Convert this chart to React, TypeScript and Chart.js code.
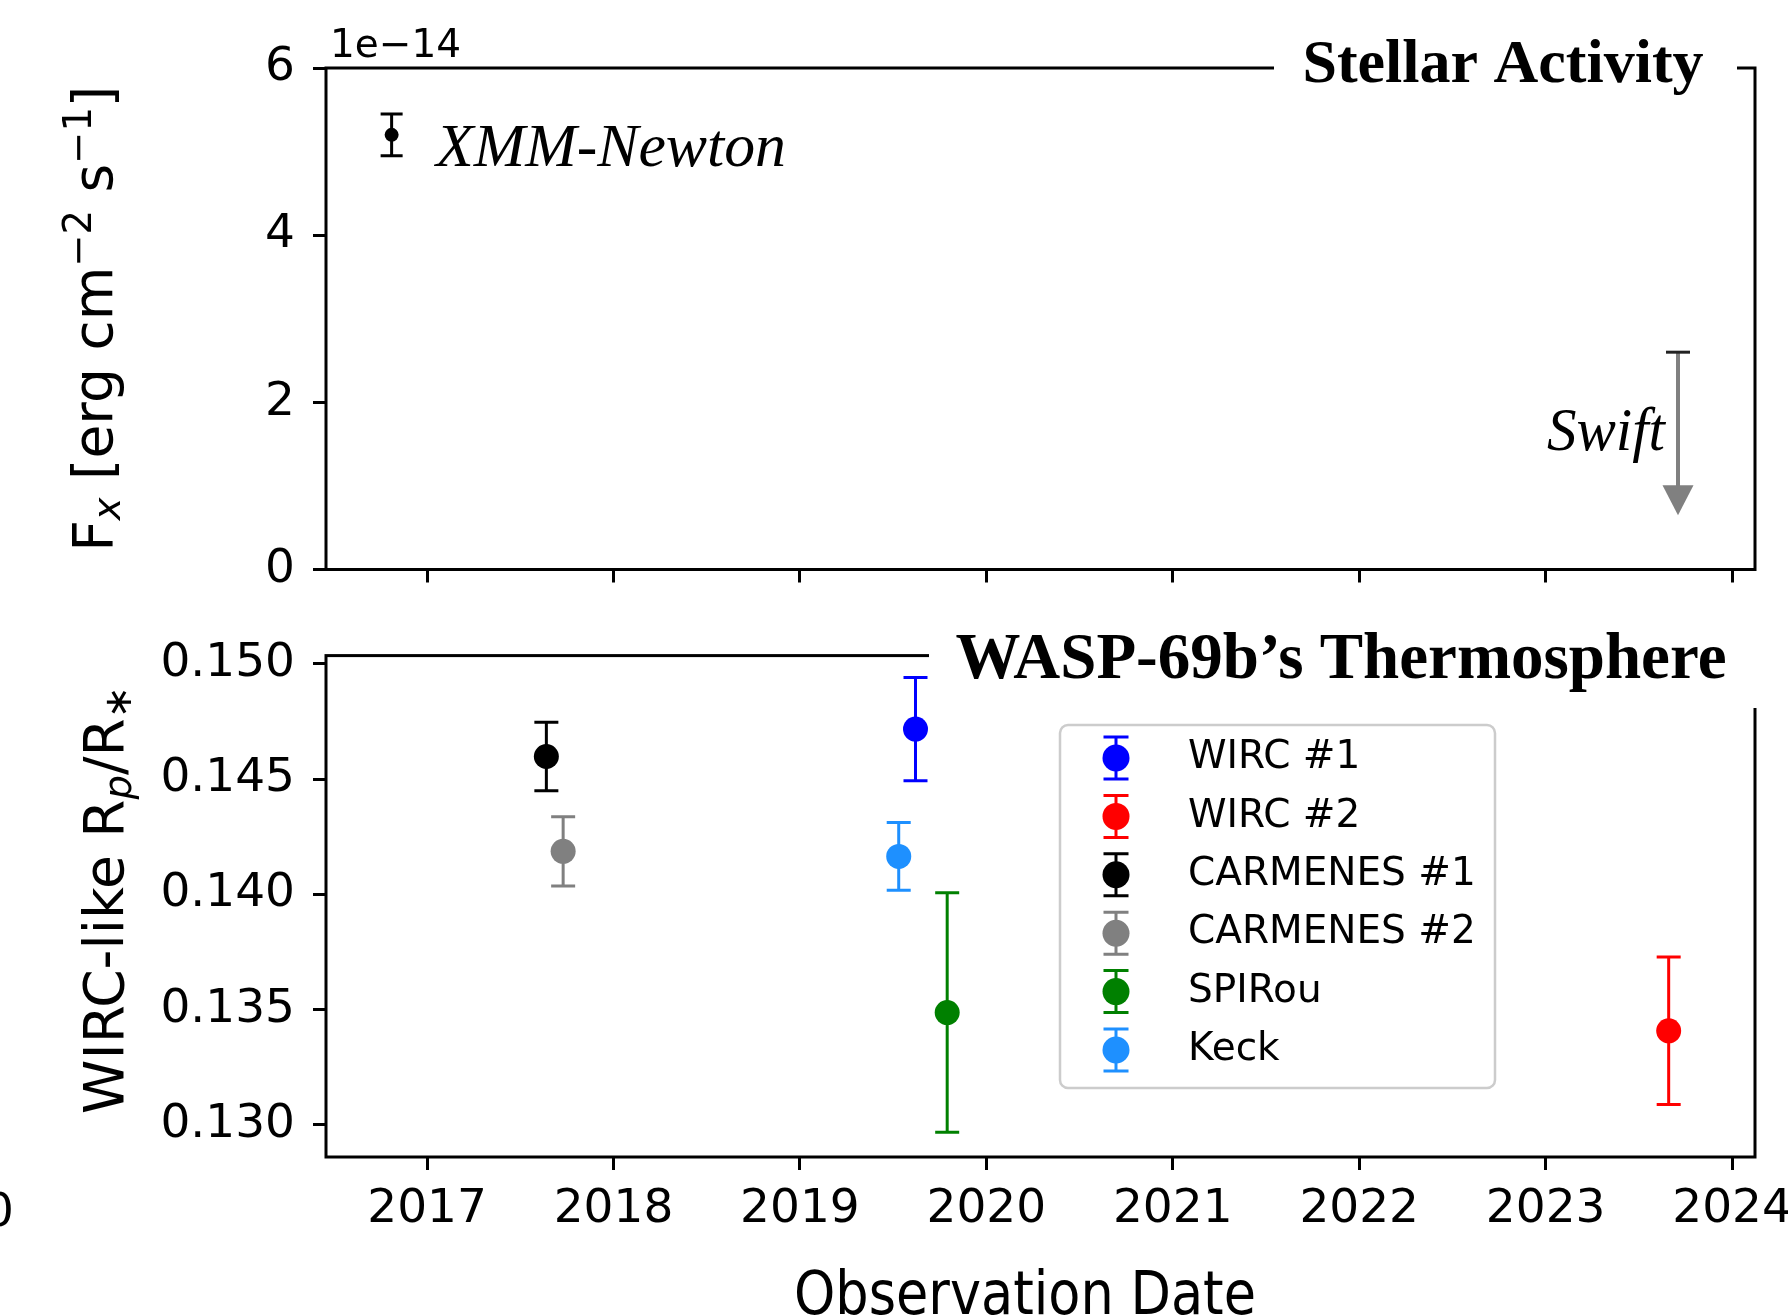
import React, { useEffect, useRef } from 'react';
import { Chart, registerables } from 'chart.js';

Chart.register(...registerables);

// ---------- data ----------
const yearTicks = [2017, 2018, 2019, 2020, 2021, 2022, 2023, 2024];
const dateMin = 2016.458;
const dateMax = 2024.123;

// X-ray flux, in units of 1e-14 erg cm^-2 s^-1
const fluxTicks = [0, 2, 4, 6];
const fluxMin = 0;
const fluxMax = 6;
const xmmDate = [2016.81];
const xmmFlux = [5.2];
const xmmErr = [0.25];
const swiftDate = [2023.71];
const swiftUpperLimit = [2.6];
const swiftArrowTip = [0.65];

// Planet radius ratio
const rpTicks = [0.13, 0.135, 0.14, 0.145, 0.15];
const rpMin = 0.12859;
const rpMax = 0.15036;
const seriesLabels = ['WIRC #1', 'WIRC #2', 'CARMENES #1', 'CARMENES #2', 'SPIRou', 'Keck'];
const seriesColors = ['#0000ff', '#ff0000', '#000000', '#808080', '#008000', '#1e90ff'];
const seriesDates = [2019.62, 2023.66, 2017.64, 2017.73, 2019.79, 2019.53];
const seriesRpRs = [0.14717, 0.13407, 0.14598, 0.14186, 0.13486, 0.14164];
const seriesErr = [0.00224, 0.0032, 0.00149, 0.0015, 0.0052, 0.00147];

// ---------- helpers ----------
const SANS = '"DejaVu Sans"';
const SERIF = '"Liberation Serif"';
const CANVAS_W = 1850;
const RIGHT_PAD = CANVAS_W - 1755;

type Part = { t: string; size: number; dy: number; italic?: boolean };

function drawRich(ctx: CanvasRenderingContext2D, parts: Part[], cx: number, cy: number, rotate: boolean) {
  ctx.save();
  ctx.translate(cx, cy);
  if (rotate) ctx.rotate(-Math.PI / 2);
  ctx.fillStyle = '#000';
  ctx.textBaseline = 'alphabetic';
  ctx.textAlign = 'left';
  const widths: number[] = [];
  let total = 0;
  for (const p of parts) {
    ctx.font = `${p.italic ? 'italic ' : ''}${p.size}px ${SANS}`;
    const w = ctx.measureText(p.t).width;
    widths.push(w);
    total += w;
  }
  let x = -total / 2;
  parts.forEach((p, i) => {
    ctx.font = `${p.italic ? 'italic ' : ''}${p.size}px ${SANS}`;
    ctx.fillText(p.t, x, p.dy);
    x += widths[i];
  });
  ctx.restore();
}

function drawErrorBar(ctx: CanvasRenderingContext2D, x: number, yTop: number, yBot: number, half: number, color: string) {
  ctx.save();
  ctx.strokeStyle = color;
  ctx.lineWidth = 3;
  ctx.lineCap = 'butt';
  ctx.beginPath();
  ctx.moveTo(x, yTop);
  ctx.lineTo(x, yBot);
  ctx.moveTo(x - half, yTop);
  ctx.lineTo(x + half, yTop);
  ctx.moveTo(x - half, yBot);
  ctx.lineTo(x + half, yBot);
  ctx.stroke();
  ctx.restore();
}

const errorBarPlugin = {
  id: 'errorBars',
  beforeDatasetsDraw(chart: any) {
    const ctx = chart.ctx;
    const xs = chart.scales.x;
    const ys = chart.scales.y;
    chart.data.datasets.forEach((ds: any) => {
      if (!ds.errors) return;
      ds.data.forEach((p: any, i: number) => {
        const e = ds.errors[i];
        drawErrorBar(ctx, xs.getPixelForValue(p.x), ys.getPixelForValue(p.y + e), ys.getPixelForValue(p.y - e), ds.capHalf, ds.backgroundColor);
      });
    });
  },
};

function spines(ctx: CanvasRenderingContext2D, a: any) {
  ctx.save();
  ctx.strokeStyle = '#000';
  ctx.lineWidth = 3;
  ctx.strokeRect(a.left, a.top, a.right - a.left, a.bottom - a.top);
  ctx.restore();
}

function xAxis(showLabels: boolean, height: number) {
  return {
    type: 'linear',
    position: 'bottom',
    min: dateMin,
    max: dateMax,
    afterBuildTicks: (s: any) => {
      s.ticks = yearTicks.map((v) => ({ value: v }));
    },
    afterFit: (s: any) => {
      s.height = height;
    },
    grid: { drawOnChartArea: false, drawTicks: true, tickLength: 13, tickWidth: 3, tickColor: '#000' },
    border: { display: false },
    ticks: {
      display: showLabels,
      padding: 12,
      color: '#000',
      autoSkip: false,
      maxRotation: 0,
      font: { family: 'DejaVu Sans', size: 47 },
      callback: (v: any) => String(Math.round(Number(v))),
    },
  };
}

function yAxis(min: number, max: number, ticks: number[], fmt: (v: number) => string) {
  return {
    type: 'linear',
    position: 'left',
    min,
    max,
    afterBuildTicks: (s: any) => {
      s.ticks = ticks.map((v) => ({ value: v }));
    },
    afterFit: (s: any) => {
      s.width = 326;
    },
    grid: { drawOnChartArea: false, drawTicks: true, tickLength: 13, tickWidth: 3, tickColor: '#000' },
    border: { display: false },
    ticks: {
      padding: 18,
      color: '#000',
      autoSkip: false,
      font: { family: 'DejaVu Sans', size: 47 },
      callback: (v: any) => fmt(Number(v)),
    },
  };
}

const topDecor = {
  id: 'topDecor',
  afterDraw(chart: any) {
    const ctx: CanvasRenderingContext2D = chart.ctx;
    const a = chart.chartArea;
    const xs = chart.scales.x;
    const ys = chart.scales.y;
    spines(ctx, a);

    // Swift upper limit
    const sx = xs.getPixelForValue(swiftDate[0]);
    const sTop = ys.getPixelForValue(swiftUpperLimit[0]);
    const sTip = ys.getPixelForValue(swiftArrowTip[0]);
    const headLen = 30;
    ctx.save();
    ctx.strokeStyle = '#808080';
    ctx.lineWidth = 4;
    ctx.beginPath();
    ctx.moveTo(sx, sTop);
    ctx.lineTo(sx, sTip - headLen + 1);
    ctx.stroke();
    ctx.fillStyle = '#808080';
    ctx.beginPath();
    ctx.moveTo(sx - 15.5, sTip - headLen);
    ctx.lineTo(sx + 15.5, sTip - headLen);
    ctx.lineTo(sx, sTip);
    ctx.closePath();
    ctx.fill();
    ctx.strokeStyle = '#222';
    ctx.lineWidth = 3;
    ctx.beginPath();
    ctx.moveTo(sx - 12, sTop);
    ctx.lineTo(sx + 12, sTop);
    ctx.stroke();
    ctx.restore();

    // title box on the top spine
    ctx.save();
    ctx.fillStyle = '#fff';
    ctx.fillRect(1274, 40, 1737 - 1274, 50);
    ctx.fillStyle = '#000';
    ctx.font = `bold 62px ${SERIF}`;
    ctx.textAlign = 'center';
    ctx.textBaseline = 'alphabetic';
    ctx.fillText('Stellar Activity', 1503, 82, 404);

    ctx.font = `italic 62px ${SERIF}`;
    ctx.textAlign = 'left';
    ctx.fillText('XMM-Newton', 436, 166, 350);
    ctx.fillText('Swift', 1547, 450, 118);

    ctx.font = `39px ${SANS}`;
    ctx.fillText('1e\u221214', 330, 57);
    ctx.restore();

    drawRich(
      ctx,
      [
        { t: 'F', size: 55, dy: 0 },
        { t: 'x', size: 38.5, dy: 8, italic: true },
        { t: ' [erg cm', size: 55, dy: 0 },
        { t: '\u22122', size: 38.5, dy: -21 },
        { t: ' s', size: 55, dy: 0 },
        { t: '\u22121', size: 38.5, dy: -21 },
        { t: ']', size: 55, dy: 0 },
      ],
      112,
      (a.top + a.bottom) / 2,
      true
    );
  },
};

const bottomDecor = {
  id: 'bottomDecor',
  afterDraw(chart: any) {
    const ctx: CanvasRenderingContext2D = chart.ctx;
    const a = chart.chartArea;
    spines(ctx, a);

    ctx.save();
    ctx.fillStyle = '#fff';
    ctx.fillRect(929, 20, CANVAS_W - 929, 88);
    ctx.fillStyle = '#000';
    ctx.font = `bold 65px ${SERIF}`;
    ctx.textAlign = 'center';
    ctx.textBaseline = 'alphabetic';
    ctx.fillText('WASP-69b\u2019s Thermosphere', 1341, 78, 772);

    // legend
    const lx = 1060, ly = 125, lw = 435, lh = 363;
    ctx.fillStyle = 'rgba(255,255,255,0.8)';
    ctx.strokeStyle = '#cccccc';
    ctx.lineWidth = 2.5;
    ctx.beginPath();
    (ctx as any).roundRect(lx, ly, lw, lh, 8);
    ctx.fill();
    ctx.stroke();
    seriesLabels.forEach((lab, i) => {
      const cy = 158 + i * 58.4;
      const mx = 1116;
      drawErrorBar(ctx, mx, cy - 21, cy + 21, 12.5, seriesColors[i]);
      ctx.fillStyle = seriesColors[i];
      ctx.beginPath();
      ctx.arc(mx, cy, 13.5, 0, Math.PI * 2);
      ctx.fill();
      ctx.fillStyle = '#000';
      ctx.font = `39px ${SANS}`;
      ctx.textAlign = 'left';
      ctx.textBaseline = 'middle';
      ctx.fillText(lab, 1188, cy);
    });

    // x title
    ctx.font = `60px ${SANS}`;
    ctx.textAlign = 'center';
    ctx.textBaseline = 'alphabetic';
    ctx.fillStyle = '#000';
    ctx.fillText('Observation Date', 1025, 714, 462);

    // clipped stray tick label at the left edge
    ctx.font = `47px ${SANS}`;
    ctx.textAlign = 'right';
    ctx.textBaseline = 'middle';
    ctx.fillText('0', 14, 614);
    ctx.restore();

    drawRich(
      ctx,
      [
        { t: 'WIRC-like R', size: 55, dy: 0 },
        { t: 'p', size: 38.5, dy: 8, italic: true },
        { t: '/R', size: 55, dy: 0 },
        { t: '\u2217', size: 38.5, dy: 8 },
      ],
      123,
      300,
      true
    );
  },
};

export default function App() {
  const topRef = useRef<HTMLCanvasElement>(null);
  const botRef = useRef<HTMLCanvasElement>(null);

  useEffect(() => {
    const common = {
      responsive: false,
      animation: false as const,
      events: [] as any[],
      plugins: { legend: { display: false }, tooltip: { enabled: false }, title: { display: false } },
    };

    const top = new Chart(topRef.current as HTMLCanvasElement, {
      type: 'scatter',
      data: {
        datasets: [
          {
            label: 'XMM-Newton',
            data: xmmDate.map((d, i) => ({ x: d, y: xmmFlux[i] })),
            backgroundColor: '#000000',
            borderColor: '#000000',
            borderWidth: 0,
            pointRadius: 7,
            errors: xmmErr,
            capHalf: 11,
          } as any,
        ],
      },
      options: {
        ...common,
        layout: { padding: { left: 0, top: 68, right: RIGHT_PAD, bottom: 0 } },
        scales: {
          x: xAxis(false, 640 - 569.5) as any,
          y: yAxis(fluxMin, fluxMax, fluxTicks, (v) => String(Math.round(v))) as any,
        },
      },
      plugins: [errorBarPlugin, topDecor],
    });

    const bottom = new Chart(botRef.current as HTMLCanvasElement, {
      type: 'scatter',
      data: {
        datasets: seriesLabels.map((lab, i) => ({
          label: lab,
          data: [{ x: seriesDates[i], y: seriesRpRs[i] }],
          backgroundColor: seriesColors[i],
          borderColor: seriesColors[i],
          borderWidth: 0,
          pointRadius: 12.5,
          errors: [seriesErr[i]],
          capHalf: 12,
        })) as any,
      },
      options: {
        ...common,
        layout: { padding: { left: 0, top: 55.6, right: RIGHT_PAD, bottom: 0 } },
        scales: {
          x: xAxis(true, 158) as any,
          y: yAxis(rpMin, rpMax, rpTicks, (v) => v.toFixed(3)) as any,
        },
      },
      plugins: [errorBarPlugin, bottomDecor],
    });

    return () => {
      top.destroy();
      bottom.destroy();
    };
  }, []);

  return (
    <div style={{ position: 'absolute', left: 0, top: 0, width: 1788, height: 1315, background: '#fff', overflow: 'hidden' }}>
      <canvas ref={topRef} width={CANVAS_W} height={640} style={{ position: 'absolute', left: 0, top: 0 }} />
      <canvas ref={botRef} width={CANVAS_W} height={715} style={{ position: 'absolute', left: 0, top: 600 }} />
    </div>
  );
}
